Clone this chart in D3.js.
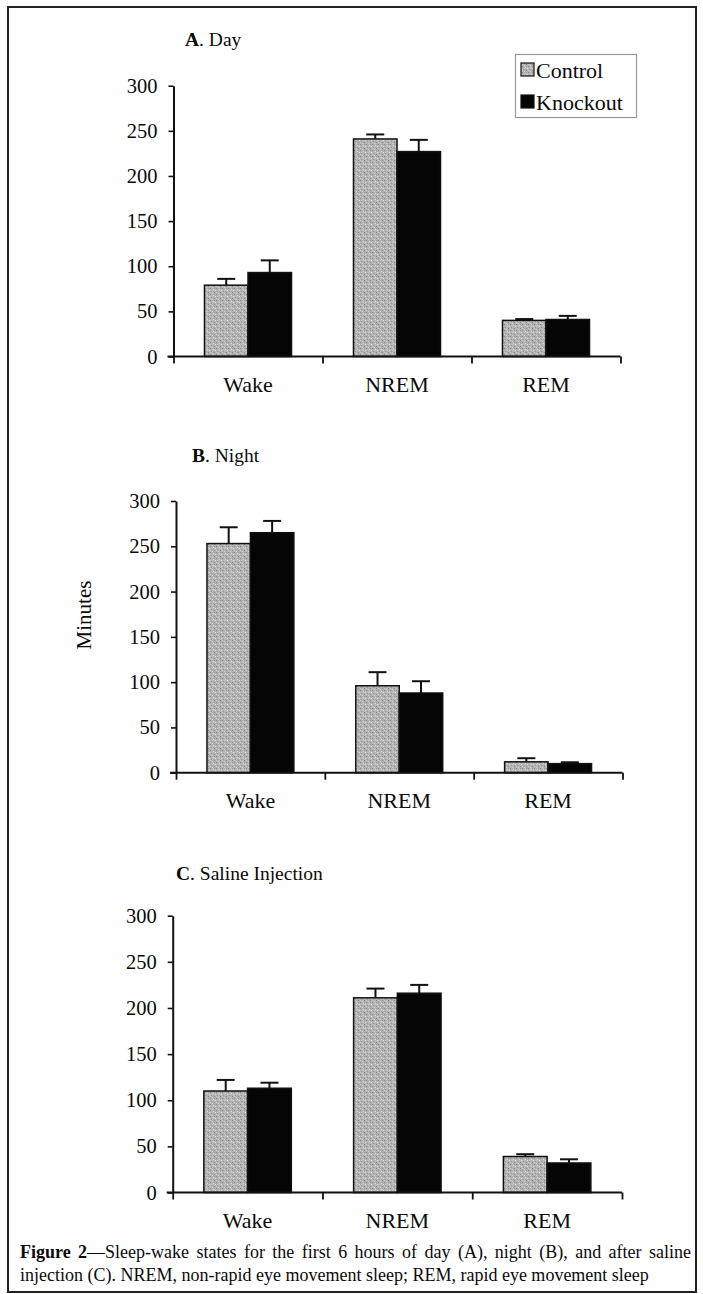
<!DOCTYPE html>
<html><head><meta charset="utf-8">
<script src="https://cdn.jsdelivr.net/npm/d3@7"></script>
<style>
body{margin:0;background:#fff}
svg{display:block}
text{font-family:"Liberation Serif","Times New Roman",serif;fill:#0a0a0a}
</style>
</head><body>
<svg id="c" width="703" height="1294"></svg>
<script>
// ---- data ----
const categories = ["Wake", "NREM", "REM"];
const seriesNames = ["Control", "Knockout"];
const yTicks = [0, 50, 100, 150, 200, 250, 300];

const dayControl = [79, 241, 40];
const dayControlErr = [7, 5, 1.5];
const dayKnockout = [93, 227, 41];
const dayKnockoutErr = [13.5, 13, 4];

const nightControl = [253, 96, 12];
const nightControlErr = [18, 15, 4];
const nightKnockout = [265, 88, 10];
const nightKnockoutErr = [13, 13, 1.5];

const salineControl = [110, 211, 39];
const salineControlErr = [12, 10, 2.5];
const salineKnockout = [113, 216, 32];
const salineKnockoutErr = [6, 9, 4];

const panelTitles = [["A", ". Day"], ["B", ". Night"], ["C", ". Saline Injection"]];
const yLabel = "Minutes";
const captionBold = "Figure 2";
const captionLine1 = "\u2014Sleep-wake states for the first 6 hours of day (A), night (B), and after saline";
const captionLine2 = "injection (C). NREM, non-rapid eye movement sleep; REM, rapid eye movement sleep";

// ---- layout ----
const svg = d3.select("#c");
const defs = svg.append("defs");
const pat = defs.append("pattern").attr("id", "stip").attr("patternUnits", "userSpaceOnUse")
  .attr("width", 6).attr("height", 6);
pat.append("rect").attr("width", 6).attr("height", 6).attr("fill", "#b3b3b3");
[[0,0,"#858585"],[3,1,"#dadada"],[1,3,"#979797"],[4,4,"#888"],[5,2,"#e2e2e2"],[2,5,"#d2d2d2"],[0,4,"#cacaca"],[4,0,"#9c9c9c"],[2,2,"#c4c4c4"]]
  .forEach(([x,y,c]) => pat.append("rect").attr("x", x).attr("y", y).attr("width", 1).attr("height", 1).attr("fill", c));

// frame
svg.append("rect").attr("x", 8).attr("y", 7).attr("width", 688).attr("height", 1285)
  .attr("fill", "none").attr("stroke", "#222").attr("stroke-width", 2);

const panels = [
  {title: panelTitles[0], ctrl: dayControl, ce: dayControlErr, ko: dayKnockout, ke: dayKnockoutErr,
   x0: 173.5, x1: 620.5, yTop: 85.7, yBase: 356.5, tx: 185, ty: 46},
  {title: panelTitles[1], ctrl: nightControl, ce: nightControlErr, ko: nightKnockout, ke: nightKnockoutErr,
   x0: 176, x1: 622.5, yTop: 501, yBase: 772.7, tx: 192, ty: 462},
  {title: panelTitles[2], ctrl: salineControl, ce: salineControlErr, ko: salineKnockout, ke: salineKnockoutErr,
   x0: 172.7, x1: 622, yTop: 915.7, yBase: 1192.5, tx: 176, ty: 880}
];

panels.forEach(p => {
  const g = svg.append("g");
  const x = d3.scaleBand().domain(categories).range([p.x0, p.x1]).padding(0);
  const bw = x.bandwidth();
  const x1 = d3.scaleBand().domain(seriesNames).range([bw * 0.208, bw * 0.792]).padding(0);
  const y = d3.scaleLinear().domain([0, 300]).range([p.yBase, p.yTop]);

  const rows = [];
  categories.forEach((c, i) => {
    rows.push({cat: c, s: "Control", v: p.ctrl[i], e: p.ce[i]});
    rows.push({cat: c, s: "Knockout", v: p.ko[i], e: p.ke[i]});
  });

  // bars
  g.selectAll("rect.bar").data(rows).join("rect").attr("class", "bar")
    .attr("x", d => x(d.cat) + x1(d.s))
    .attr("y", d => y(d.v))
    .attr("width", x1.bandwidth())
    .attr("height", d => y(0) - y(d.v))
    .attr("fill", d => d.s === "Control" ? "url(#stip)" : "#050505")
    .attr("stroke", "#111").attr("stroke-width", 1.5);

  // error bars (upper only)
  const eb = g.selectAll("g.err").data(rows).join("g").attr("class", "err")
    .attr("transform", d => `translate(${x(d.cat) + x1(d.s) + x1.bandwidth() / 2},0)`);
  eb.append("line").attr("x1", 0).attr("x2", 0)
    .attr("y1", d => y(d.v)).attr("y2", d => y(d.v + d.e))
    .attr("stroke", "#111").attr("stroke-width", 2);
  eb.append("line").attr("x1", -9).attr("x2", 9)
    .attr("y1", d => y(d.v + d.e)).attr("y2", d => y(d.v + d.e))
    .attr("stroke", "#111").attr("stroke-width", 2);

  // y axis
  const ya = g.append("g").attr("transform", `translate(${p.x0},0)`)
    .call(d3.axisLeft(y).tickValues(yTicks).tickSize(5).tickSizeOuter(0).tickPadding(11));
  ya.select(".domain").attr("stroke", "#111").attr("stroke-width", 2);
  ya.selectAll(".tick line").attr("stroke", "#111").attr("stroke-width", 1.6);
  ya.selectAll(".tick text").style("font-family", '"Liberation Serif",serif').style("font-size", "20.5px").attr("fill", "#0a0a0a");

  // x axis with band-boundary ticks
  const xb = d3.scaleLinear().domain([0, categories.length]).range([p.x0, p.x1]);
  const xa = g.append("g").attr("transform", `translate(0,${p.yBase})`)
    .call(d3.axisBottom(xb).tickValues(d3.range(categories.length + 1)).tickSize(7).tickSizeOuter(0).tickFormat(""));
  xa.select(".domain").attr("stroke", "#111").attr("stroke-width", 2).attr("d", `M${p.x0 - 6},0H${p.x1}`);
  xa.selectAll(".tick line").attr("stroke", "#111").attr("stroke-width", 1.8);

  // category labels
  g.selectAll("text.cat").data(categories).join("text").attr("class", "cat")
    .attr("x", d => x(d) + bw / 2).attr("y", p.yBase + 35.5)
    .attr("text-anchor", "middle").style("font-size", "22px").text(d => d);

  // title
  const t = g.append("text").attr("x", p.tx).attr("y", p.ty).style("font-size", "19.5px");
  t.append("tspan").style("font-weight", "bold").text(p.title[0]);
  t.append("tspan").text(p.title[1]);
});

// legend
const lg = svg.append("g");
lg.append("rect").attr("x", 515.5).attr("y", 54.5).attr("width", 121).attr("height", 63)
  .attr("fill", "#fff").attr("stroke", "#9a9a9a").attr("stroke-width", 1.2);
seriesNames.forEach((s, i) => {
  const yy = 63 + i * 32;
  lg.append("rect").attr("x", 521).attr("y", yy).attr("width", 13).attr("height", 13)
    .attr("fill", i === 0 ? "url(#stip)" : "#050505").attr("stroke", "#111").attr("stroke-width", 1.2);
  lg.append("text").attr("x", 536).attr("y", yy + 14.5).style("font-size", "22px").text(s);
});

// y label
svg.append("text").attr("transform", "translate(91,615) rotate(-90)")
  .attr("text-anchor", "middle").style("font-size", "21px").text(yLabel);

// caption
const cap1 = svg.append("text").attr("x", 20).attr("y", 1258).style("font-size", "18px");
cap1.append("tspan").style("font-weight", "bold").text(captionBold);
cap1.append("tspan").text(captionLine1);
const natural = cap1.node().getComputedTextLength();
const spaces = (captionBold + captionLine1).split(" ").length - 1;
const target = 691 - 20;
if (natural < target) cap1.style("word-spacing", ((target - natural) / spaces) + "px");
svg.append("text").attr("x", 20).attr("y", 1281).style("font-size", "18px").text(captionLine2);
</script>
</body></html>
